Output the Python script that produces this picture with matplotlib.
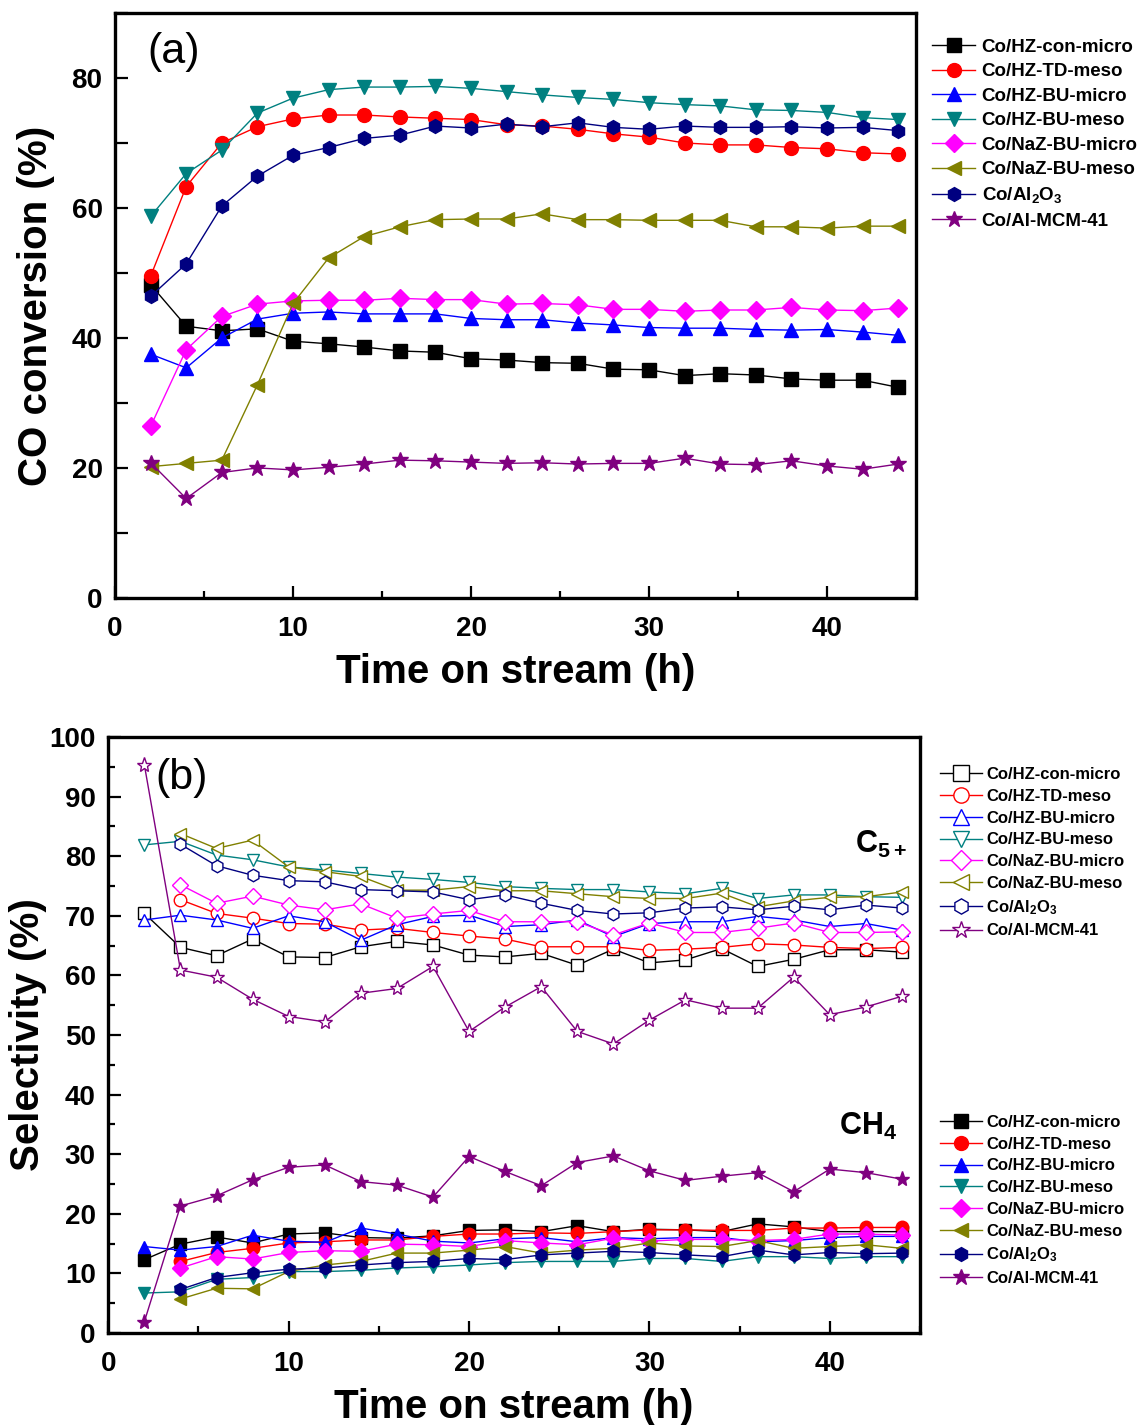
import matplotlib
matplotlib.use('Agg')
import matplotlib.pyplot as plt
from matplotlib.lines import Line2D
from matplotlib.ticker import MultipleLocator

plt.rcParams['font.family'] = ['Liberation Sans', 'DejaVu Sans']
plt.rcParams['font.weight'] = 'bold'
plt.rcParams['mathtext.fontset'] = 'custom'
plt.rcParams['mathtext.rm'] = 'Liberation Sans:bold'
plt.rcParams['mathtext.bf'] = 'Liberation Sans:bold'
plt.rcParams['mathtext.default'] = 'bf'

# time on stream (h)
t = [2, 4, 6, 8, 10, 12, 14, 16, 18, 20, 22, 24, 26, 28, 30, 32, 34, 36, 38, 40, 42, 44]
t4 = t[1:]  # series that start at 4 h

names = ['Co/HZ-con-micro', 'Co/HZ-TD-meso', 'Co/HZ-BU-micro', 'Co/HZ-BU-meso',
         'Co/NaZ-BU-micro', 'Co/NaZ-BU-meso', r'Co/Al$_{\bf 2}$O$_{\bf 3}$', 'Co/Al-MCM-41']
colors = ['#000000', '#ff0000', '#0000ff', '#008080', '#ff00ff', '#808000', '#000080', '#800080']
markers = ['s', 'o', '^', 'v', 'D', '<', 'h', '*']

# (a) CO conversion (%)
conv_con_micro = [48.2, 41.8, 41.1, 41.4, 39.5, 39.1, 38.6, 38.0, 37.8, 36.8, 36.6,
                  36.2, 36.1, 35.2, 35.1, 34.2, 34.5, 34.3, 33.7, 33.5, 33.5, 32.4]
conv_td_meso = [49.5, 63.3, 70.0, 72.5, 73.7, 74.3, 74.3, 74.0, 73.8, 73.6, 72.8,
                72.6, 72.1, 71.4, 70.9, 70.0, 69.7, 69.7, 69.3, 69.1, 68.5, 68.3]
conv_bu_micro = [37.5, 35.4, 40.0, 42.9, 43.8, 44.0, 43.7, 43.7, 43.7, 43.0, 42.8,
                 42.8, 42.3, 42.0, 41.6, 41.5, 41.5, 41.3, 41.2, 41.3, 40.9, 40.4]
conv_bu_meso = [58.7, 65.3, 68.9, 74.6, 76.9, 78.2, 78.6, 78.6, 78.7, 78.4, 77.9,
                77.4, 77.0, 76.7, 76.2, 75.9, 75.7, 75.1, 75.0, 74.7, 73.9, 73.6]
conv_naz_micro = [26.4, 38.2, 43.3, 45.2, 45.7, 45.8, 45.8, 46.1, 45.9, 45.9, 45.2,
                  45.3, 45.1, 44.4, 44.4, 44.1, 44.3, 44.3, 44.7, 44.3, 44.2, 44.6]
conv_naz_meso = [20.2, 20.7, 21.2, 32.8, 45.3, 52.3, 55.6, 57.1, 58.2, 58.3, 58.3,
                 59.1, 58.2, 58.2, 58.1, 58.1, 58.1, 57.1, 57.1, 56.9, 57.2, 57.2]
conv_al2o3 = [46.4, 51.4, 60.3, 64.9, 68.1, 69.3, 70.7, 71.2, 72.6, 72.3, 72.9,
              72.5, 73.1, 72.4, 72.1, 72.6, 72.4, 72.4, 72.5, 72.3, 72.4, 71.9]
conv_mcm41 = [20.8, 15.3, 19.3, 20.0, 19.7, 20.1, 20.6, 21.2, 21.1, 20.9, 20.7,
              20.8, 20.6, 20.7, 20.7, 21.5, 20.6, 20.5, 21.1, 20.3, 19.8, 20.6]

# (b) C5+ selectivity (%)
c5_con_micro = [70.4, 64.7, 63.3, 66.1, 63.1, 63.0, 64.8, 65.7, 65.1, 63.4, 63.1,
                63.7, 61.7, 64.4, 62.1, 62.6, 64.5, 61.5, 62.7, 64.3, 64.3, 63.9]
c5_td_meso = [72.7, 70.4, 69.6, 68.7, 68.6, 67.6, 67.9, 67.2, 66.6, 66.1,
              64.8, 64.8, 64.8, 64.2, 64.4, 64.7, 65.3, 65.1, 64.7, 64.5, 64.7]
c5_bu_micro = [69.3, 70.1, 69.3, 67.9, 70.0, 69.0, 65.9, 68.5, 69.9, 70.1, 68.2,
               68.5, 69.3, 66.5, 68.7, 69.0, 69.0, 69.9, 69.3, 68.2, 68.7, 67.6]
c5_bu_meso = [81.9, 82.5, 80.2, 79.4, 78.2, 77.7, 77.1, 76.5, 76.1, 75.6, 74.9,
              74.6, 74.4, 74.4, 74.0, 73.7, 74.6, 72.9, 73.5, 73.5, 73.2, 73.1]
c5_naz_micro = [75.2, 72.1, 73.3, 71.8, 71.0, 72.0, 69.6, 70.3, 70.9, 69.0,
                69.0, 69.0, 66.8, 68.8, 67.2, 67.2, 67.9, 68.8, 67.2, 67.2, 67.3]
c5_naz_meso = [83.8, 81.3, 82.7, 78.2, 77.4, 76.6, 74.3, 74.3, 74.9, 74.2,
               74.2, 73.7, 73.2, 72.9, 72.9, 73.8, 71.5, 72.5, 73.1, 73.2, 74.0]
c5_al2o3 = [82.0, 78.4, 76.8, 75.9, 75.7, 74.4, 74.2, 74.0, 72.7, 73.5,
            72.1, 70.9, 70.3, 70.5, 71.3, 71.5, 71.0, 71.6, 71.0, 71.8, 71.3]
c5_mcm41 = [95.3, 60.9, 59.7, 56.0, 53.1, 52.2, 57.0, 57.8, 61.5, 50.6, 54.7,
            58.1, 50.6, 48.5, 52.5, 55.9, 54.5, 54.5, 59.7, 53.4, 54.7, 56.5]

# (b) CH4 selectivity (%)
ch4_con_micro = [12.3, 14.9, 16.1, 15.1, 16.6, 16.8, 16.0, 15.9, 16.3, 17.2, 17.3,
                 17.0, 18.0, 17.0, 17.4, 17.3, 17.0, 18.3, 17.8, 17.0, 17.0, 17.0]
ch4_td_meso = [12.0, 13.5, 14.2, 15.1, 15.3, 15.6, 15.6, 16.2, 16.6, 16.6,
               16.8, 16.7, 17.0, 17.3, 17.3, 17.2, 17.2, 17.6, 17.6, 17.7, 17.7]
ch4_bu_micro = [14.5, 13.9, 14.5, 16.4, 15.4, 15.2, 17.6, 16.6, 15.4, 15.1, 15.8,
                16.0, 15.3, 16.0, 15.8, 16.0, 16.0, 15.3, 15.5, 16.0, 16.2, 16.2]
ch4_bu_meso = [6.7, 6.9, 9.0, 9.3, 10.3, 10.3, 10.5, 10.9, 11.1, 11.4, 11.8,
               12.0, 12.0, 12.0, 12.5, 12.5, 12.0, 12.8, 12.8, 12.5, 12.8, 12.8]
ch4_naz_micro = [10.9, 12.8, 12.4, 13.5, 13.8, 13.7, 14.9, 14.8, 14.5, 15.5,
                 15.1, 14.8, 15.9, 15.4, 15.7, 15.7, 15.5, 15.7, 16.6, 16.6, 16.4]
ch4_naz_meso = [5.7, 7.5, 7.4, 10.3, 11.4, 12.0, 13.4, 13.4, 13.9, 14.5,
                13.4, 13.9, 14.2, 15.1, 14.6, 14.5, 15.5, 14.2, 14.5, 14.8, 14.2]
ch4_al2o3 = [7.3, 9.3, 10.1, 10.7, 10.9, 11.4, 11.8, 12.0, 12.5, 12.3,
             13.1, 13.4, 13.7, 13.5, 13.1, 12.8, 13.9, 13.1, 13.5, 13.3, 13.4]
ch4_mcm41 = [1.9, 21.3, 23.0, 25.7, 27.8, 28.2, 25.4, 24.8, 22.8, 29.6, 27.1,
             24.7, 28.6, 29.7, 27.2, 25.6, 26.3, 26.9, 23.7, 27.5, 26.9, 25.8]

conv = [conv_con_micro, conv_td_meso, conv_bu_micro, conv_bu_meso,
        conv_naz_micro, conv_naz_meso, conv_al2o3, conv_mcm41]
c5 = [c5_con_micro, c5_td_meso, c5_bu_micro, c5_bu_meso,
      c5_naz_micro, c5_naz_meso, c5_al2o3, c5_mcm41]
ch4 = [ch4_con_micro, ch4_td_meso, ch4_bu_micro, ch4_bu_meso,
       ch4_naz_micro, ch4_naz_meso, ch4_al2o3, ch4_mcm41]

fig = plt.figure(figsize=(11.4, 14.25), dpi=100)
ax1 = fig.add_axes([0.1009, 0.5804, 0.7026, 0.4105])
ax2 = fig.add_axes([0.0950, 0.0646, 0.7120, 0.4182])


def msize(m, big):
    base = 10 if big else 9
    if m == '*':
        return base + 2
    if m == 'D':
        return base - 1
    return base


def xs(vals):
    return t if len(vals) == len(t) else t4


# panel (a)
for vals, c, m in zip(conv, colors, markers):
    ax1.plot(xs(vals), vals, color=c, marker=m, ms=msize(m, True), lw=1,
             mec=c, mfc=c)

# panel (b): open = C5+, filled = CH4
for vals, c, m in zip(c5, colors, markers):
    ax2.plot(xs(vals), vals, color=c, marker=m, ms=msize(m, False), lw=1,
             mec=c, mfc='white', mew=1)
for vals, c, m in zip(ch4, colors, markers):
    ax2.plot(xs(vals), vals, color=c, marker=m, ms=msize(m, False), lw=1,
             mec=c, mfc=c)

for ax in (ax1, ax2):
    ax.set_xlim(0, 45)
    ax.xaxis.set_major_locator(MultipleLocator(10))
    ax.xaxis.set_minor_locator(MultipleLocator(5))
    ax.tick_params(which='both', direction='in', width=1.6, labelsize=20,
                   top=False, right=False)
    ax.tick_params(which='major', length=9)
    ax.tick_params(which='minor', length=5)
    ax.tick_params(axis='x', which='major', pad=13)
    ax.tick_params(axis='y', which='major', pad=9)
    for s in ax.spines.values():
        s.set_linewidth(2.4)
    for lab in ax.get_xticklabels() + ax.get_yticklabels():
        lab.set_fontweight('bold')
    ax.set_xlabel('Time on stream (h)', fontsize=29, fontweight='bold', labelpad=8)

ax1.set_ylim(0, 90)
ax1.yaxis.set_major_locator(MultipleLocator(20))
ax1.yaxis.set_minor_locator(MultipleLocator(10))
ax1.tick_params(axis='y', which='minor', length=9)
ax1.set_ylabel('CO conversion (%)', fontsize=29, fontweight='bold', labelpad=12)
ax1.text(1.8, 84, '(a)', fontsize=31, fontweight='normal', va='center', ha='left')

ax2.set_ylim(0, 100)
ax2.yaxis.set_major_locator(MultipleLocator(10))
ax2.yaxis.set_minor_locator(MultipleLocator(5))
ax2.set_ylabel('Selectivity (%)', fontsize=29, fontweight='bold', labelpad=2)
ax2.text(2.6, 93.1, '(b)', fontsize=31, fontweight='normal', va='center', ha='left')
ax2.text(41.4, 81.9, r'C$_{\bf 5+}$', fontsize=22, fontweight='bold', va='center', ha='left')
ax2.text(40.5, 34.6, r'CH$_{\bf 4}$', fontsize=22, fontweight='bold', va='center', ha='left')

# legends
h_a = [Line2D([], [], color=c, marker=m, ms=msize(m, True), lw=1, mfc=c, mec=c)
       for c, m in zip(colors, markers)]
fig.legend(h_a, names, loc='upper left', bbox_to_anchor=(0.8175, 0.9728),
           frameon=False, handlelength=2.3, handletextpad=0.35,
           labelspacing=0.39, borderpad=0, borderaxespad=0,
           prop={'weight': 'bold', 'size': 13.5})

h_open = [Line2D([], [], color=c, marker=m, ms=msize(m, False) + 2, lw=1, mfc='white', mec=c)
          for c, m in zip(colors, markers)]
h_fill = [Line2D([], [], color=c, marker=m, ms=msize(m, False) + 1, lw=1, mfc=c, mec=c)
          for c, m in zip(colors, markers)]
fig.legend(h_open, names, loc='upper left', bbox_to_anchor=(0.8246, 0.4618),
           frameon=False, handlelength=2.5, handletextpad=0.25,
           labelspacing=0.41, borderpad=0, borderaxespad=0,
           prop={'weight': 'bold', 'size': 12})
fig.legend(h_fill, names, loc='upper left', bbox_to_anchor=(0.8246, 0.2177),
           frameon=False, handlelength=2.5, handletextpad=0.25,
           labelspacing=0.41, borderpad=0, borderaxespad=0,
           prop={'weight': 'bold', 'size': 12})

fig.savefig('out.png', dpi=100)
